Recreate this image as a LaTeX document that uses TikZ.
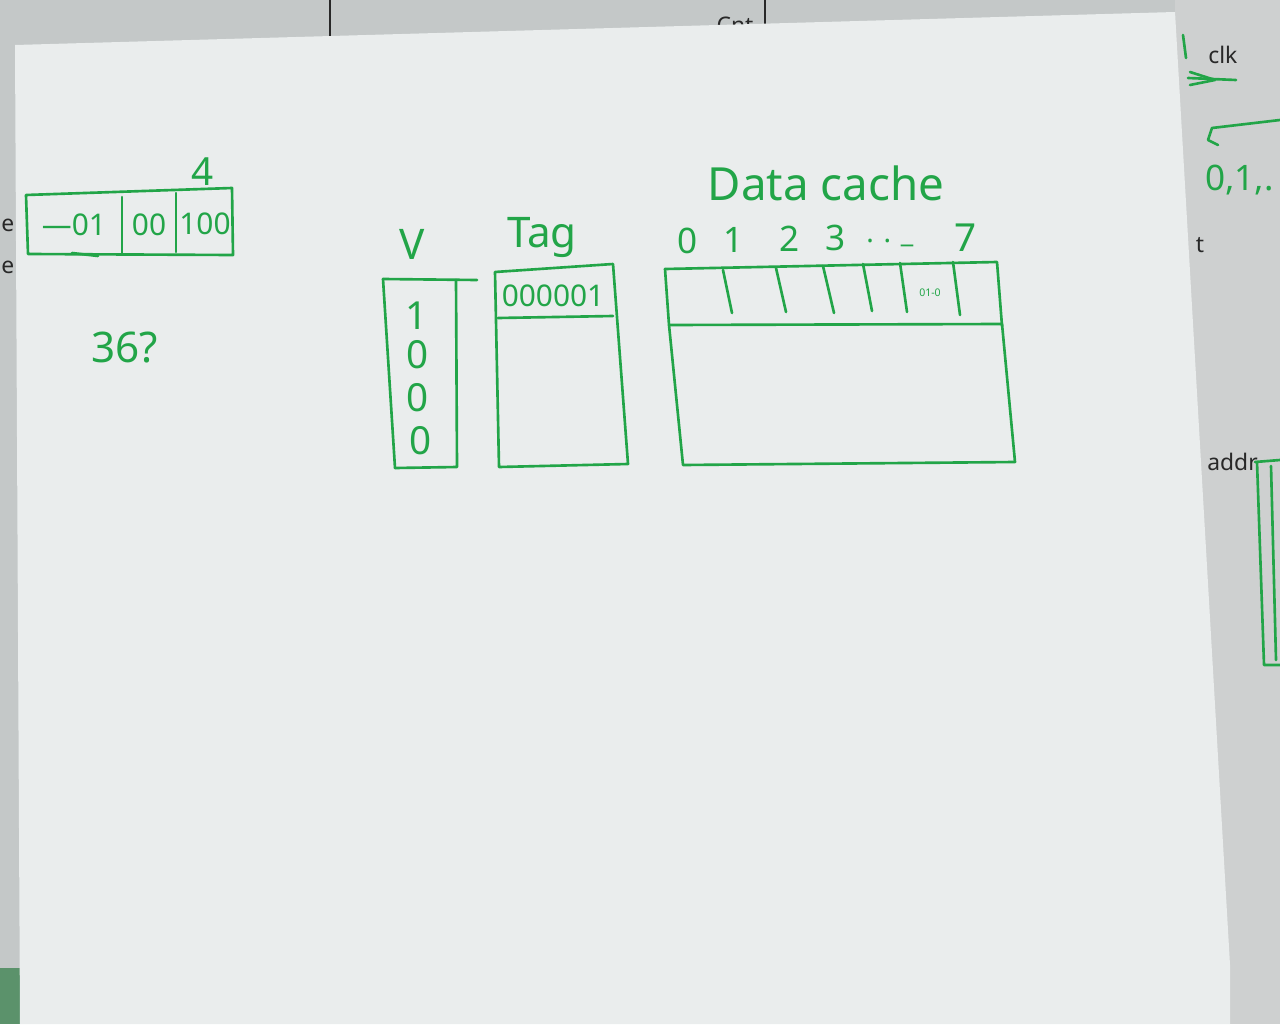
\documentclass[tikz,border=0pt]{standalone}
\usepackage{fontspec}
\setmainfont{Noto Sans}
\usetikzlibrary{calc}
\definecolor{pen}{RGB}{34,165,72}
\definecolor{desk}{RGB}{196,200,200}
\definecolor{sheet}{RGB}{234,237,237}
\definecolor{undersheet}{RGB}{206,208,208}
\definecolor{ink}{RGB}{40,40,40}
\tikzset{
  stroke/.style={draw=pen, line width=1.5pt, line cap=round, line join=round},
  hand/.style={text=pen, inner sep=0pt, font=\fontsize{#1}{#1}\selectfont},
  hand/.default=22pt,
  print/.style={text=ink, inner sep=0pt, font=\fontsize{13}{13}\selectfont}
}
\begin{document}
\begin{tikzpicture}[x=0.02cm, y=-0.02cm]
\useasboundingbox (0,0) rectangle (1280,1024);
% desk and the sheets underneath
\fill[desk] (0,0) rectangle (1280,1024);
\fill[undersheet] (1175,0) rectangle (1280,1024);
\fill[pen!60!black!70] (0,968) rectangle (20,1024);
\draw[ink, line width=0.8pt] (330,0) -- (330,46);
\draw[ink, line width=0.8pt] (765,0) -- (765,40);
\node[print, anchor=south] (cnt) at (735,34) {Cnt};
\node[print, anchor=west] (lefte1) at (1,225) {e};
\node[print, anchor=west] (lefte2) at (1,267) {e};
% the main sheet
\fill[sheet] (15,45) -- (1175,12) -- (1230,965) -- (1230,1024) -- (20,1024) -- cycle;

% ---- right-hand sheet fragments
\node[print, anchor=west] (clk) at (1208,55) {clk};
\draw[stroke] (1183,35) -- (1186,58);
\draw[stroke] (1188,78) -- (1236,80);
\draw[stroke] (1190,72) -- (1215,80) -- (1190,85);
\draw[stroke] (1280,120) -- (1212,128) -- (1208,140) -- (1218,145);
\node[hand=20pt, anchor=west] (seq) at (1205,180) {0,1,.};
\node[print] (tlabel) at (1200,245) {t};
\node[print, anchor=west] (addr) at (1207,462) {addr};
\draw[stroke] (1255,462) -- (1280,460);
\draw[stroke] (1257,462) -- (1264,665) -- (1280,665);
\draw[stroke] (1271,466) -- (1276,660);

% ---- address split
\draw[stroke] (26,195) -- (232,188) -- (233,255) -- (28,254) -- cycle;
\draw[stroke] (122,197) -- (122,253);
\draw[stroke] (176,193) -- (176,252);
\draw[stroke] (72,253) -- (98,256);
\node[hand=17pt] (fa) at (74,225) {—01};
\node[hand=17pt] (fb) at (149,225) {00};
\node[hand=17pt] (fc) at (205,224) {100};
\node[hand=22pt] (width) at (203,172) {4};
\node[hand=24pt] (q) at (125,348) {36?};

% ---- valid bits
\node[hand=24pt] (vlab) at (412,244) {V};
\draw[stroke] (383,279) -- (477,280);
\draw[stroke] (383,279) -- (395,468);
\draw[stroke] (395,468) -- (457,467) -- (456,280);
\node[hand=22pt] (v1) at (417,316) {1};
\node[hand=22pt] (v2) at (418,355) {0};
\node[hand=22pt] (v3) at (418,398) {0};
\node[hand=22pt] (v4) at (421,441) {0};

% ---- tag array
\node[hand=24pt] (taglab) at (542,238) {Tag};
\draw[stroke] (495,272) -- (613,264) -- (628,464) -- (499,467) -- cycle;
\draw[stroke] (498,318) -- (613,316);
\node[hand=17pt] (tag0) at (553,296) {000001};

% ---- data array
\node[hand=26pt] (dlab) at (826,183) {Data cache};
\node[hand=20pt] (i0) at (688,241) {0};
\node[hand=20pt] (i1) at (734,240) {1};
\node[hand=20pt] (i2) at (790,239) {2};
\node[hand=20pt] (i3) at (836,238) {3};
\node[hand=16pt, anchor=west] (idots) at (866,243) {. . \_};
\node[hand=22pt] (i7) at (966,238) {7};
\draw[stroke] (665,269) -- (997,262) -- (1002,326);
\draw[stroke] (665,269) -- (669,325) -- (1002,324);
\draw[stroke] (669,325) -- (683,465) -- (1015,462) -- (1002,324);
\draw[stroke] (723,270) -- (732,313);
\draw[stroke] (776,268) -- (786,312);
\draw[stroke] (823,266) -- (834,313);
\draw[stroke] (863,264) -- (872,311);
\draw[stroke] (900,263) -- (907,312);
\draw[stroke] (953,262) -- (960,315);
\node[hand=6pt] (cell) at (930,293) {01-0};
\end{tikzpicture}
\end{document}
